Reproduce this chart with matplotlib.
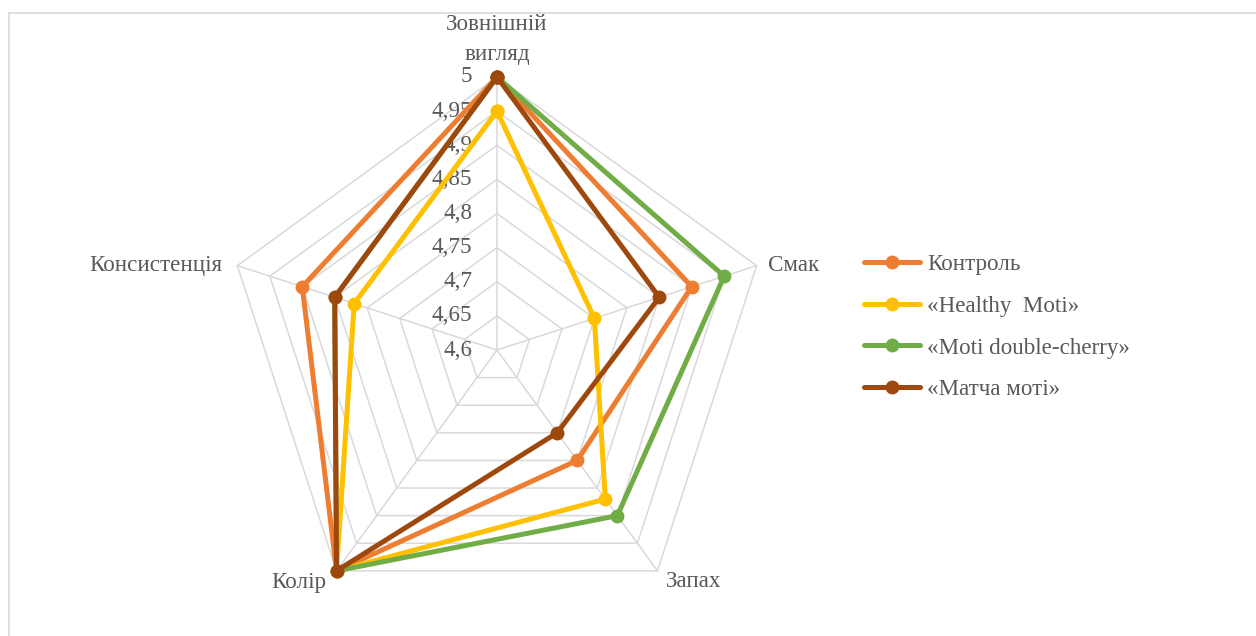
import numpy as np
import matplotlib.pyplot as plt
from matplotlib.lines import Line2D

# Органолептична оцінка зразків (бали)
criteria = ["Зовнішній\nвигляд", "Смак", "Запах", "Колір", "Консистенція"]
control = [5.0, 4.9, 4.8, 5.0, 4.9]
healthy_moti = [4.95, 4.75, 4.87, 5.0, 4.82]
double_cherry = [5.0, 4.95, 4.9, 5.0, 4.85]
matcha_moti = [5.0, 4.85, 4.75, 5.0, 4.85]

series_names = ["Контроль", "«Healthy  Moti»", "«Moti double-cherry»", "«Матча моті»"]
series_colors = ["#ED7D31", "#FFC000", "#70AD47", "#9E480E"]

r_ticks = [4.6, 4.65, 4.7, 4.75, 4.8, 4.85, 4.9, 4.95, 5.0]
tick_labels = ["4,6", "4,65", "4,7", "4,75", "4,8", "4,85", "4,9", "4,95", "5"]

plt.rcParams["font.family"] = ["Liberation Serif", "DejaVu Serif"]
text_color = "#595959"
grid_color = "#D9D9D9"
fs = 16.6

fig = plt.figure(figsize=(12.56, 6.36), dpi=100)
fig.patch.set_facecolor("white")

# рамка діаграми (лише верхня та ліва межі видимі)
fig.add_artist(Line2D([9 / 1256, 1], [1 - 13 / 636, 1 - 13 / 636], color=grid_color, lw=1.2))
fig.add_artist(Line2D([9 / 1256, 9 / 1256], [0, 1 - 13 / 636], color=grid_color, lw=1.2))

ax = fig.add_axes([224 / 1256, 13 / 636, 546 / 1256, 546 / 636], projection="polar")
ax.set_theta_offset(np.pi / 2)
ax.set_theta_direction(-1)
ax.set_ylim(r_ticks[0], r_ticks[-1])
ax.grid(False)
ax.spines["polar"].set_visible(False)
ax.set_xticks([])
ax.set_yticks([])
ax.patch.set_alpha(0)

n = len(criteria)
angles = np.linspace(0, 2 * np.pi, n, endpoint=False)
closed = np.concatenate([angles, angles[:1]])

# сітка у формі п'ятикутників і промені
for r in r_ticks[1:]:
    ax.plot(closed, [r] * (n + 1), color=grid_color, lw=1.1, zorder=1, clip_on=False)
for a in angles:
    ax.plot([a, a], [r_ticks[0], r_ticks[-1]], color=grid_color, lw=1.1, zorder=1, clip_on=False)

# підписи шкали
for r, lab in zip(r_ticks, tick_labels):
    ax.annotate(lab, xy=(0, r), xytext=(-25, 0), textcoords="offset pixels",
                ha="right", va="center", fontsize=fs, color=text_color, zorder=2)

# підписи категорій
offsets = [(0, 12, "center", "bottom"), (11, 0, "left", "center"), (8, -11, "left", "center"),
           (-10, -12, "right", "center"), (-15, 0, "right", "center")]
for a, lab, (dx, dy, ha, va) in zip(angles, criteria, offsets):
    ax.annotate(lab, xy=(a, r_ticks[-1]), xytext=(dx, dy), textcoords="offset pixels",
                ha=ha, va=va, fontsize=fs, color=text_color, linespacing=1.55,
                annotation_clip=False)

data = [control, healthy_moti, double_cherry, matcha_moti]
handles = []
for vals, name, col in zip(data, series_names, series_colors):
    v = list(vals) + [vals[0]]
    (ln,) = ax.plot(closed, v, color=col, lw=3.6, marker="o", markersize=9,
                    label=name, zorder=3, solid_joinstyle="round", solid_capstyle="round",
                    clip_on=False)
    handles.append(ln)

fig.legend(handles=handles, labels=series_names, loc="center left",
           bbox_to_anchor=(843 / 1256, 1 - 327 / 636), frameon=False, fontsize=fs,
           labelcolor=text_color, handlelength=2.45, handletextpad=0.3,
           labelspacing=0.9)

plt.savefig("out.png", dpi=100)
